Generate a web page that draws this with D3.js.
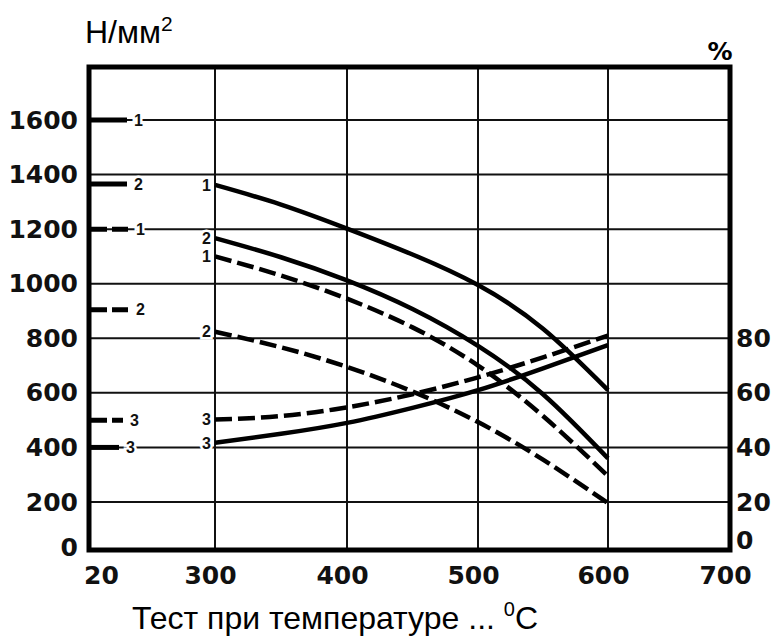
<!DOCTYPE html>
<html>
<head>
<meta charset="utf-8">
<script src="https://cdn.jsdelivr.net/npm/d3@7"></script>
<style>
	body { margin: 0; background: #fff; }
	svg { display: block; }
</style>
</head>
<body>
<svg id="chart" width="779" height="637"></svg>
<script>
// temperature axis (20 is squeezed next to 300)
const tempTicks = [20, 300, 400, 500, 600, 700];
const strengthTicks = [0, 200, 400, 600, 800, 1000, 1200, 1400, 1600];
const percentTicks = [0, 20, 40, 60, 80];

// curves, measured at these temperatures
const curveTemps = [300, 350, 400, 450, 500, 550, 600];
const tensile1 = [1362, 1290, 1202, 1107, 995, 835, 610];
const tensile2 = [1167, 1097, 1012, 907, 772, 595, 360];
const yield1 = [1100, 1030, 945, 840, 700, 515, 295];
const yield2 = [824, 767, 695, 605, 493, 355, 195];
const elong3 = [41.7, 45, 49, 54.5, 61, 69, 77.5];
const elongDash3 = [50.2, 51.5, 54.7, 59.5, 65.7, 73, 81];

// reference values at 20 °C (short marks on the left)
const tensileAt20 = [1600, 1365];
const yieldAt20 = [1200, 905];
const elongAt20 = 40;
const elongDashAt20 = 50;

const svg = d3.select('#chart');

const x = d3.scaleLinear()
	.domain([20, 300, 400, 500, 600, 700])
	.range([89, 215, 347, 478, 608, 730]);

const y = d3.scaleLinear()
	.domain([0, 200, 1600])
	.range([550, 502, 120]);

const yPct = d3.scaleLinear()
	.domain([0, 20, 160])
	.range([550, 502, 120]);

const plotTop = 67;
const tickFont = 'DejaVu Sans, Liberation Sans, sans-serif';

// grid
const grid = svg.append('g').attr('stroke', '#111').attr('stroke-width', 2);

grid.selectAll('.h')
	.data(strengthTicks.filter((d) => d > 0))
	.enter()
	.append('line')
	.attr('x1', x(20))
	.attr('x2', x(700))
	.attr('y1', (d) => y(d))
	.attr('y2', (d) => y(d));

grid.selectAll('.v')
	.data(tempTicks.slice(1, -1))
	.enter()
	.append('line')
	.attr('x1', (d) => x(d))
	.attr('x2', (d) => x(d))
	.attr('y1', plotTop)
	.attr('y2', y(0));

// frame
svg.append('rect')
	.attr('x', x(20))
	.attr('y', plotTop)
	.attr('width', x(700) - x(20))
	.attr('height', y(0) - plotTop)
	.attr('fill', 'none')
	.attr('stroke', '#000')
	.attr('stroke-width', 5);

// axes
function styleAxis(g) {
	g.select('.domain').remove();
	g.selectAll('text')
		.attr('fill', '#111')
		.style('font-family', tickFont)
		.style('font-weight', 'bold')
		.style('font-size', '25px');
}

const plain = d3.format('d');

svg.append('g')
	.attr('transform', 'translate(' + x(20) + ',0)')
	.call(d3.axisLeft(y).tickValues(strengthTicks).tickFormat(plain).tickSize(0).tickPadding(11))
	.call(styleAxis)
	.selectAll('text')
	.attr('dy', (d) => d === 0 ? '0.22em' : '0.32em');

svg.append('g')
	.attr('transform', 'translate(' + x(700) + ',0)')
	.call(d3.axisRight(yPct).tickValues(percentTicks).tickFormat(plain).tickSize(0).tickPadding(6))
	.call(styleAxis)
	.selectAll('text')
	.attr('dy', (d) => d === 0 ? '-0.05em' : '0.32em');

svg.append('g')
	.attr('transform', 'translate(0,' + y(0) + ')')
	.call(d3.axisBottom(x).tickValues(tempTicks).tickFormat(plain).tickSize(0).tickPadding(16))
	.call(styleAxis)
	.selectAll('text')
	.attr('dx', (d) => d === 20 ? 12 : -5);

// unit labels
const unit = svg.append('text')
	.attr('x', 85)
	.attr('y', 43)
	.style('font-family', 'Liberation Sans, Arial, sans-serif')
	.style('font-size', '32px')
	.text('Н/мм');
unit.append('tspan')
	.attr('dy', -12)
	.style('font-size', '21px')
	.text('2');

svg.append('text')
	.attr('x', 720)
	.attr('y', 60)
	.attr('text-anchor', 'middle')
	.style('font-family', tickFont)
	.style('font-weight', 'bold')
	.style('font-size', '25px')
	.text('%');

const title = svg.append('text')
	.attr('x', 132)
	.attr('y', 629)
	.style('font-family', 'Liberation Sans, Arial, sans-serif')
	.style('font-size', '32px')
	.text('Тест при температуре ... ');
title.append('tspan')
	.attr('dy', -13)
	.style('font-size', '20px')
	.text('0');
title.append('tspan')
	.attr('dy', 13)
	.text('C');

// curves
const series = [
	{ name: '1', values: tensile1, scale: y, dashed: false },
	{ name: '2', values: tensile2, scale: y, dashed: false },
	{ name: '1', values: yield1, scale: y, dashed: true },
	{ name: '2', values: yield2, scale: y, dashed: true },
	{ name: '3', values: elongDash3, scale: yPct, dashed: true },
	{ name: '3', values: elong3, scale: yPct, dashed: false }
];

const marks = [
	{ name: '1', value: tensileAt20[0], scale: y, dashed: false, len: 38 },
	{ name: '2', value: tensileAt20[1], scale: y, dashed: false, len: 38 },
	{ name: '1', value: yieldAt20[0], scale: y, dashed: true, len: 40 },
	{ name: '2', value: yieldAt20[1], scale: y, dashed: true, len: 40 },
	{ name: '3', value: elongDashAt20, scale: yPct, dashed: true, len: 34 },
	{ name: '3', value: elongAt20, scale: yPct, dashed: false, len: 30 }
];

function halo(sel) {
	sel.attr('stroke', '#fff')
		.attr('stroke-width', 5)
		.attr('paint-order', 'stroke')
		.attr('fill', '#111')
		.style('font-family', 'Liberation Sans, Arial, sans-serif')
		.style('font-weight', 'bold')
		.style('font-size', '16px');
}

svg.selectAll('.mark')
	.data(marks)
	.enter()
	.append('line')
	.attr('x1', x(20) + 2)
	.attr('x2', (d) => x(20) + d.len)
	.attr('y1', (d) => d.scale(d.value))
	.attr('y2', (d) => d.scale(d.value))
	.attr('stroke', '#000')
	.attr('stroke-width', 5)
	.attr('stroke-dasharray', (d) => d.dashed ? '16,5' : null);

svg.selectAll('.markLabel')
	.data(marks)
	.enter()
	.append('text')
	.attr('x', (d) => x(20) + d.len + 7)
	.attr('y', (d) => d.scale(d.value))
	.attr('dy', '0.36em')
	.text((d) => d.name)
	.call(halo);

const line = (s) => d3.line()
	.x((d, i) => x(curveTemps[i]))
	.y((d) => s.scale(d))
	.curve(d3.curveNatural)(s.values);

svg.selectAll('.curve')
	.data(series)
	.enter()
	.append('path')
	.attr('d', line)
	.attr('fill', 'none')
	.attr('stroke', '#000')
	.attr('stroke-width', 4.5)
	.attr('stroke-dasharray', (d) => d.dashed ? '17,6' : null);

svg.selectAll('.curveLabel')
	.data(series)
	.enter()
	.append('text')
	.attr('x', x(300) - 4)
	.attr('y', (d) => d.scale(d.values[0]))
	.attr('dy', '0.36em')
	.attr('text-anchor', 'end')
	.text((d) => d.name)
	.call(halo);
</script>
</body>
</html>
